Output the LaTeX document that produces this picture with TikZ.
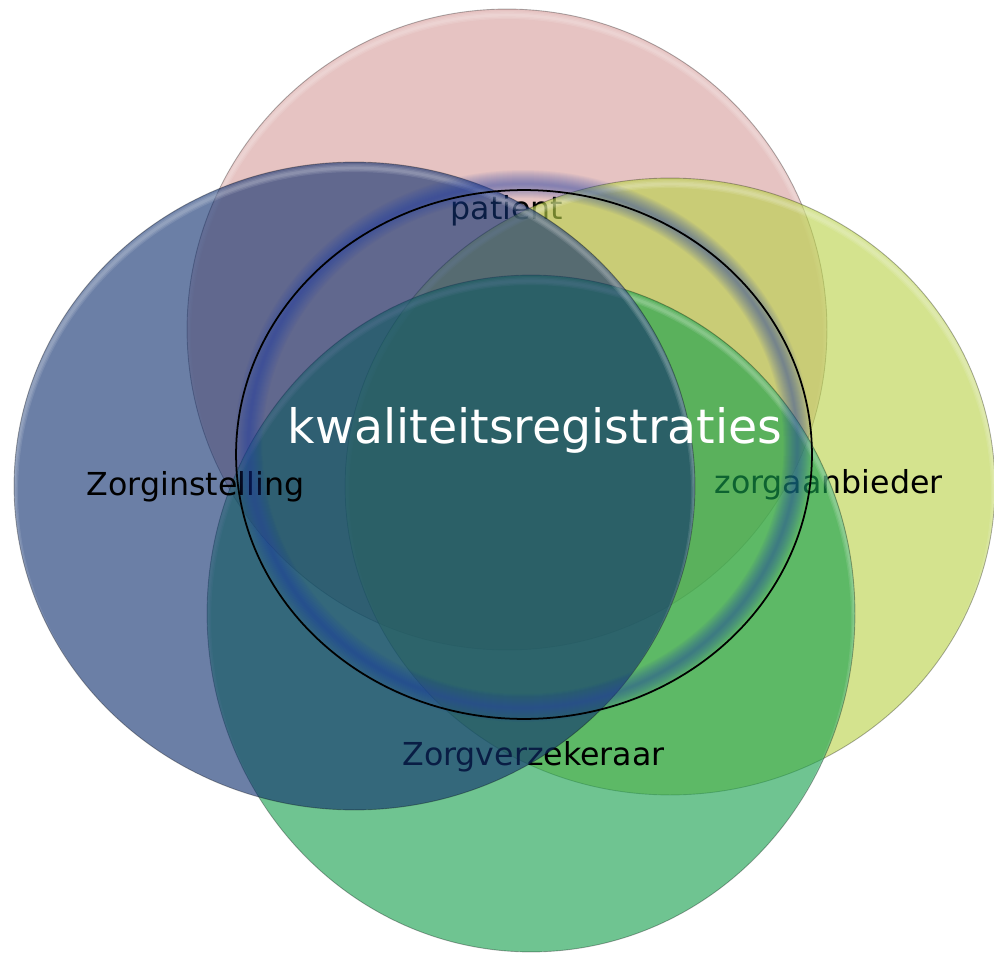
\documentclass[tikz,border=0pt]{standalone}
\usepackage{fontspec}
\setmainfont{DejaVu Sans}
\definecolor{pinkc}{RGB}{214,158,156}
\definecolor{bluec}{RGB}{16,48,111}
\definecolor{yellowc}{RGB}{185,210,73}
\definecolor{greenc}{RGB}{22,160,78}
\definecolor{glowc}{RGB}{30,60,170}
\tikzset{
  vennfill/.style={fill=#1, fill opacity=0.62},
  vennedge/.style={draw=black, draw opacity=0.3, line width=0.5pt},
  vennshine/.style={draw=white, draw opacity=0.10, line width=#1},
  lbl/.style={font=\fontsize{18}{22}\selectfont, text=black, anchor=base, inner sep=0pt},
  mainlbl/.style={font=\fontsize{27}{32}\selectfont, text=white, anchor=base, inner sep=0pt},
  glowring/.style={draw=glowc, draw opacity=0.045},
  ringline/.style={draw=black, line width=1pt}
}
\newcommand\venncircle[5]{%
  \fill[vennfill=#5] (#1,#2) ellipse [x radius=#3, y radius=#4];
  \begin{scope}
    \clip (#1,#2) ellipse [x radius=#3, y radius=#4];
    \foreach \sw in {1.5pt,3pt,4.5pt}
      \draw[vennshine=\sw] (#1,#2+6) ellipse [x radius=#3, y radius=#4];
  \end{scope}
  \draw[vennedge] (#1,#2) ellipse [x radius=#3, y radius=#4];
}
\begin{document}
\begin{tikzpicture}[x=0.02cm,y=-0.02cm]
\useasboundingbox (0,0) rectangle (994,956);
\clip (0,0) rectangle (994,956);

% pink circle and its label
\venncircle{507}{329.5}{6.40cm}{6.41cm}{pinkc}
\node[lbl] (pat) at (507,220) {patient};

% yellow circle and its label
\venncircle{670}{486.5}{6.50cm}{6.17cm}{yellowc}
\node[lbl] (zab) at (828.5,493) {zorgaanbieder};

% green circle and its label
\venncircle{531}{613.5}{6.48cm}{6.77cm}{greenc}
\node[lbl] (zvk) at (533.5,765) {Zorgverzekeraar};

% blue circle and its label
\venncircle{354.5}{486}{6.81cm}{6.48cm}{bluec}
\node[lbl] (zin) at (195.5,495) {Zorginstelling};

% glowing ring
\foreach \w in {0.04cm,0.08cm,0.12cm,0.16cm,0.20cm,0.24cm,0.28cm,0.32cm,0.36cm,0.40cm,0.44cm,0.48cm,0.52cm,0.56cm}
  \draw[glowring, line width=\w] (523,446) ellipse [x radius=5.49cm, y radius=5.24cm];
\draw[ringline] (524,454.5) ellipse [x radius=5.76cm, y radius=5.29cm];

% central label
\node[mainlbl] (kw) at (535,443) {kwaliteitsregistraties};
\end{tikzpicture}
\end{document}
